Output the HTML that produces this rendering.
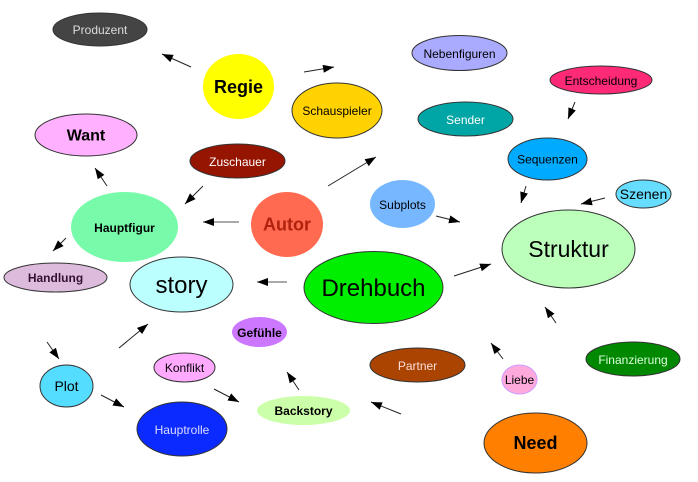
<!DOCTYPE html>
<html><head><meta charset="utf-8"><style>
html,body{margin:0;padding:0;background:#fff;}
svg{display:block;}
text{font-family:"Liberation Sans",Arial,sans-serif;text-anchor:middle;}
</style></head><body>
<svg width="698" height="482" viewBox="0 0 698 482" xmlns="http://www.w3.org/2000/svg">
<defs>
<marker id="ah" markerUnits="userSpaceOnUse" markerWidth="12" markerHeight="10" refX="11" refY="4" orient="auto">
<path d="M0,0 L11,4 L0,8 z" fill="#000"/>
</marker>
</defs>
<g stroke="#222" stroke-width="1" marker-end="url(#ah)">
<line x1="191" y1="67" x2="162" y2="54"/>
<line x1="304" y1="72" x2="334" y2="67"/>
<line x1="107" y1="186" x2="95" y2="168"/>
<line x1="203" y1="186" x2="185" y2="204"/>
<line x1="239" y1="222" x2="203" y2="222" stroke="#555"/>
<line x1="328" y1="186" x2="376" y2="157"/>
<line x1="575" y1="102" x2="568" y2="119"/>
<line x1="526" y1="186" x2="521" y2="203"/>
<line x1="605" y1="198" x2="581" y2="204"/>
<line x1="436" y1="216" x2="460" y2="222"/>
<line x1="66" y1="238" x2="53" y2="251"/>
<line x1="287" y1="282" x2="257" y2="282" stroke="#555"/>
<line x1="47" y1="342" x2="59" y2="359"/>
<line x1="119" y1="348" x2="148" y2="324"/>
<line x1="101" y1="395" x2="124" y2="407"/>
<line x1="214" y1="389" x2="239" y2="402"/>
<line x1="299" y1="390" x2="287" y2="372"/>
<line x1="454" y1="276" x2="491" y2="264"/>
<line x1="556" y1="323" x2="545" y2="307"/>
<line x1="503" y1="359" x2="491" y2="343"/>
<line x1="401" y1="414" x2="371" y2="402"/>
</g>
<g stroke="#333" stroke-width="1">
<ellipse cx="100" cy="29.5" rx="47" ry="16.5" fill="#444444"/>
<ellipse cx="238.5" cy="86.5" rx="35.5" ry="32.5" fill="#ffff00" stroke="none"/>
<ellipse cx="337" cy="110.5" rx="45" ry="27.5" fill="#ffd200"/>
<ellipse cx="86" cy="135" rx="51" ry="21" fill="#ffb0ff"/>
<ellipse cx="237.5" cy="161" rx="47.5" ry="17" fill="#951500"/>
<ellipse cx="124.5" cy="227" rx="53.5" ry="35" fill="#77fbaa" stroke="none"/>
<ellipse cx="287" cy="224.5" rx="36" ry="32.5" fill="#ff6a50" stroke="none"/>
<ellipse cx="459.5" cy="53" rx="47.5" ry="17.5" fill="#aaaaff"/>
<ellipse cx="601" cy="80" rx="51" ry="14" fill="#ff2a77"/>
<ellipse cx="465.5" cy="119" rx="47.5" ry="17" fill="#00a6a6"/>
<ellipse cx="547.5" cy="159" rx="39.5" ry="21" fill="#00aaff"/>
<ellipse cx="643.5" cy="194" rx="27.5" ry="14" fill="#66ddff"/>
<ellipse cx="402.5" cy="204" rx="32.5" ry="24" fill="#77b7ff" stroke="none"/>
<ellipse cx="568.5" cy="249" rx="66.5" ry="39" fill="#bbffbb"/>
<ellipse cx="55.5" cy="277.5" rx="51.5" ry="14.5" fill="#ddbbdd"/>
<ellipse cx="181.5" cy="284.5" rx="51.5" ry="27.5" fill="#bbffff"/>
<ellipse cx="373.5" cy="287.5" rx="69.5" ry="36" fill="#00ee00"/>
<ellipse cx="259.5" cy="332" rx="27.5" ry="15" fill="#cc77ff" stroke="none"/>
<ellipse cx="66.5" cy="386" rx="26.5" ry="21" fill="#55ddff"/>
<ellipse cx="184.5" cy="367.5" rx="30.5" ry="14.5" fill="#ffaaff"/>
<ellipse cx="182" cy="429" rx="45" ry="27" fill="#0a2aff"/>
<ellipse cx="303.5" cy="410.5" rx="46.5" ry="14.5" fill="#ccffaa" stroke="none"/>
<ellipse cx="417.5" cy="365" rx="47.5" ry="17" fill="#aa4400"/>
<ellipse cx="519.5" cy="379.5" rx="17.5" ry="14.5" fill="#ffaadd" stroke="#cc99ff"/>
<ellipse cx="633" cy="359" rx="47" ry="17" fill="#008800"/>
<ellipse cx="535.5" cy="443" rx="51.5" ry="30" fill="#ff7f00"/>
</g>
<g font-size="12">
<text x="100" y="34" fill="#dddddd">Produzent</text>
<text x="238.5" y="93" font-size="18" font-weight="bold" fill="#000">Regie</text>
<text x="337" y="115" fill="#000">Schauspieler</text>
<text x="86" y="140.5" font-size="16" font-weight="bold" fill="#000">Want</text>
<text x="237.5" y="166" fill="#ffffff">Zuschauer</text>
<text x="124.5" y="232" font-weight="bold" fill="#000">Hauptfigur</text>
<text x="287" y="230.5" font-size="18" font-weight="bold" fill="#b0220e">Autor</text>
<text x="459.5" y="58" fill="#000">Nebenfiguren</text>
<text x="601" y="85" fill="#000">Entscheidung</text>
<text x="465.5" y="124" fill="#ffffff">Sender</text>
<text x="547.5" y="163.5" fill="#000">Sequenzen</text>
<text x="643.5" y="199" font-size="14" fill="#000">Szenen</text>
<text x="402.5" y="209" fill="#000">Subplots</text>
<text x="568.5" y="257" font-size="23" fill="#000">Struktur</text>
<text x="55.5" y="282" font-weight="bold" fill="#331133">Handlung</text>
<text x="181.5" y="293" font-size="24" fill="#000">story</text>
<text x="373.5" y="296" font-size="24" fill="#000">Drehbuch</text>
<text x="259.5" y="337" font-weight="bold" fill="#000">Gefühle</text>
<text x="66.5" y="391" font-size="14" fill="#000">Plot</text>
<text x="184.5" y="372" fill="#000">Konflikt</text>
<text x="182" y="434" fill="#ddddff">Hauptrolle</text>
<text x="303.5" y="415" font-weight="bold" fill="#000">Backstory</text>
<text x="417.5" y="370" fill="#ffdddd">Partner</text>
<text x="519.5" y="384" fill="#000">Liebe</text>
<text x="633" y="364" fill="#ddffdd">Finanzierung</text>
<text x="535.5" y="449" font-size="18" font-weight="bold" fill="#000">Need</text>
</g>
</svg>
</body></html>
